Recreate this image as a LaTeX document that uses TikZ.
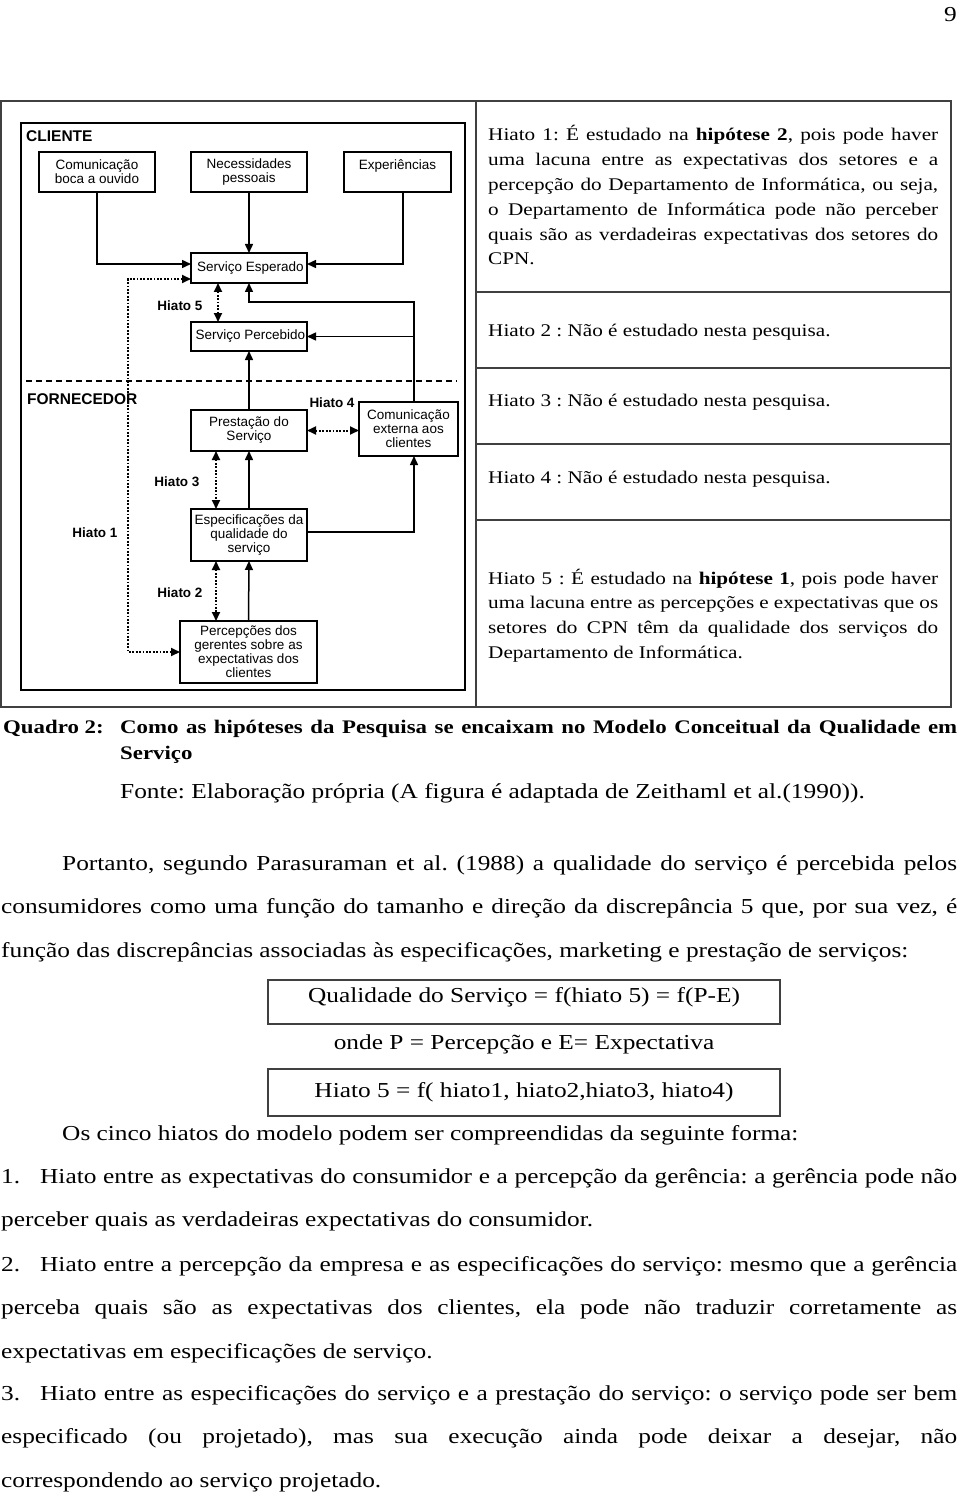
\documentclass[tikz,border=0pt]{standalone}
\usepackage{fontspec}
\setmainfont[FakeStretch=1.19]{Liberation Serif}
\newfontfamily\diagfont{Liberation Sans}
\usetikzlibrary{arrows.meta}
\frenchspacing

\begin{document}
\begin{tikzpicture}[x=1pt,y=-1pt,
		dbox/.style={draw, line width=1.2pt, outer sep=0pt, inner sep=1pt, align=center, font=\diagfont\fontsize{13.5}{14}\selectfont},
		flow/.style={line width=1.5pt, -{Triangle[length=9pt,width=8pt]}},
		gap/.style={line width=2pt, dash pattern=on 1.8pt off 1.6pt, {Triangle[length=9pt,width=8pt]}-{Triangle[length=9pt,width=8pt]}},
		hiato/.style={inner sep=0pt, font=\diagfont\bfseries\fontsize{13.5}{14}\selectfont},
		side/.style={anchor=west, inner sep=0pt, font=\diagfont\bfseries\fontsize{15.5}{16}\selectfont},
		tabline/.style={draw=black!75, line width=1.1pt},
		coltext/.style={anchor=base west, text width=450pt, align=justify, inner sep=0pt, font=\fontsize{17.8}{24.8}\selectfont},
		bodytext/.style={anchor=base west, text width=956pt, align=justify, inner sep=0pt, font=\fontsize{21.3}{43.7}\selectfont},
		plain/.style={inner sep=0pt, font=\fontsize{21.3}{26}\selectfont},
		fbox/.style={draw=black!75, line width=1.1pt, minimum width=512pt, inner sep=0pt, font=\fontsize{21.3}{26}\selectfont}]
			\path[fill=white, use as bounding box] (0,0) rectangle (960,1495);
			\node[plain, anchor=base east] (pagenum) at (957,22) {9};
			\draw[tabline] (1,101) rectangle (951,707) (476,101) -- (476,707);
			\draw[tabline] (476,292) -- (951,292) (476,368) -- (951,368) (476,444) -- (951,444) (476,520) -- (951,520);
			\draw[line width=2.2pt] (21,123) rectangle (465,690);
			\node[side] (cliente) at (26,136) {CLIENTE};
			\node[side] (fornecedor) at (27,399) {FORNECEDOR};
			\draw[line width=1.5pt, dash pattern=on 6pt off 4pt] (26,381) -- (457,381);
			\node[dbox, minimum width=116pt, minimum height=40pt] (boca) at (97,172) {Comunicação\\boca a ouvido};
			\node[dbox, minimum width=116pt, minimum height=40pt] (necess) at (249,172) {Necessidades\\pessoais};
			\node[dbox, minimum width=107pt, minimum height=40pt] (exper) at (397.5,172) {Experiências\\\mbox{}};
			\node[dbox, minimum width=116pt, minimum height=30pt] (esperado) at (249,268) {\hspace*{3pt}Serviço Esperado};
			\node[dbox, minimum width=116pt, minimum height=29pt] (percebido) at (249,336.5) {\hspace*{3pt}Serviço Percebido};
			\node[dbox, minimum width=116pt, minimum height=41pt] (prestacao) at (249,430.5) {Prestação do\\Serviço};
			\node[dbox, minimum width=99pt, minimum height=54pt] (comext) at (408.5,429) {Comunicação\\externa aos\\clientes};
			\node[dbox, minimum width=116pt, minimum height=52pt] (especif) at (249,535) {Especificações da\\qualidade do\\serviço};
			\node[dbox, minimum width=137pt, minimum height=62pt] (percep) at (248.5,652) {Percepções dos\\gerentes sobre as\\expectativas dos\\clientes};
			\coordinate (bend1) at (128,279);
			\coordinate (extup) at ([xshift=5.5pt]comext.north);
			\coordinate (extdown) at ([xshift=5.5pt]comext.south);
			\draw[flow] (boca.south) |- ([yshift=4pt]esperado.west);
			\draw[flow] (necess.south) -- (esperado.north);
			\draw[flow] ([xshift=5.5pt]exper.south) |- ([yshift=4pt]esperado.east);
			\draw[gap] ([yshift=-11pt]esperado.west) -- (bend1) |- (percep.west);
			\draw[gap] ([xshift=-31pt]esperado.south) -- ([xshift=-31pt]percebido.north);
			\draw[flow] (extup) -- ++(0,-100) -| (esperado.south);
			\draw[flow] (extup |- percebido.east) -- (percebido.east);
			\draw[flow] (prestacao.north) -- (percebido.south);
			\draw[gap] (prestacao.east) -- (prestacao.east -| comext.west);
			\draw[flow] ([yshift=3pt]especif.east) -| (extdown);
			\draw[gap] ([xshift=-33pt]prestacao.south) -- ([xshift=-33pt]especif.north);
			\draw[flow] (especif.north) -- (prestacao.south);
			\draw[gap] ([xshift=-33pt]especif.south) -- ([xshift=-32.5pt]percep.north);
			\draw[flow] (percep.north) -- (especif.south);
			\node[hiato] (h5) at (180,306) {Hiato 5};
			\node[hiato] (h4) at (332,403) {Hiato 4};
			\node[hiato] (h3) at (177,482) {Hiato 3};
			\node[hiato] (h1) at (95,533) {Hiato 1};
			\node[hiato] (h2) at (180,593) {Hiato 2};
			\node[coltext] (h1text) at (488,141) {Hiato 1: É estudado na \textbf{hipótese 2}, pois pode haver\linebreak uma lacuna entre as expectativas dos setores e a\linebreak percepção do Departamento de Informática, ou seja,\linebreak o Departamento de Informática pode não perceber\linebreak quais são as verdadeiras expectativas dos setores do\linebreak CPN.};
			\node[coltext] (h2text) at (488,336) {Hiato 2 : Não é estudado nesta pesquisa.};
			\node[coltext] (h3text) at (488,406) {Hiato 3 : Não é estudado nesta pesquisa.};
			\node[coltext] (h4text) at (488,483) {Hiato 4 : Não é estudado nesta pesquisa.};
			\node[coltext] (h5text) at (488,584) {Hiato 5 : É estudado na \textbf{hipótese 1}, pois pode haver\linebreak uma lacuna entre as percepções e expectativas que os\linebreak setores do CPN têm da qualidade dos serviços do\linebreak Departamento de Informática.};
			\node[plain, anchor=base west, font=\bfseries\fontsize{19.2}{26}\selectfont] (quadro) at (3,733) {Quadro 2:};
			\node[plain, anchor=base west, text width=837pt, align=justify, font=\bfseries\fontsize{19.2}{26}\selectfont] (titulo) at (120,733) {\hyphenpenalty=10000 Como as hipóteses da Pesquisa se encaixam no Modelo Conceitual da Qualidade em\linebreak Serviço};
			\node[plain, anchor=base west] (fonte) at (120,798) {Fonte: Elaboração própria (A figura é adaptada de Zeithaml et al.(1990)).};
			\node[bodytext] (portanto) at (1,870) {\hspace*{61pt}Portanto, segundo Parasuraman et al. (1988) a qualidade do serviço é percebida pelos\linebreak consumidores como uma função do tamanho e direção da discrepância 5 que, por sua vez, é\linebreak função das discrepâncias associadas às especificações, marketing e prestação de serviços:};
			\node[fbox, minimum height=44pt, text height=10pt, text depth=10pt] (formula) at (524,1002) {Qualidade do Serviço = f(hiato 5) = f(P-E)};
			\node[plain, anchor=base] (onde) at (524,1049) {onde P = Percepção e E= Expectativa};
			\node[fbox, minimum height=47pt, text height=14pt, text depth=5pt] (hiatofn) at (524,1092.5) {Hiato 5 = f( hiato1, hiato2,hiato3, hiato4)};
			\node[plain, anchor=base west] (cinco) at (62,1140) {Os cinco hiatos do modelo podem ser compreendidas da seguinte forma:};
			\node[bodytext] (item1) at (1,1183) {\makebox[39pt][l]{1.}Hiato entre as expectativas do consumidor e a percepção da gerência: a gerência pode não\linebreak perceber quais as verdadeiras expectativas do consumidor.};
			\node[bodytext] (item2) at (1,1271) {\makebox[39pt][l]{2.}Hiato entre a percepção da empresa e as especificações do serviço: mesmo que a gerência\linebreak perceba quais são as expectativas dos clientes, ela pode não traduzir corretamente as\linebreak expectativas em especificações de serviço.};
			\node[bodytext] (item3) at (1,1400) {\makebox[39pt][l]{3.}Hiato entre as especificações do serviço e a prestação do serviço: o serviço pode ser bem\linebreak especificado (ou projetado), mas sua execução ainda pode deixar a desejar, não\linebreak correspondendo ao serviço projetado.};
		\end{tikzpicture}
\end{document}
